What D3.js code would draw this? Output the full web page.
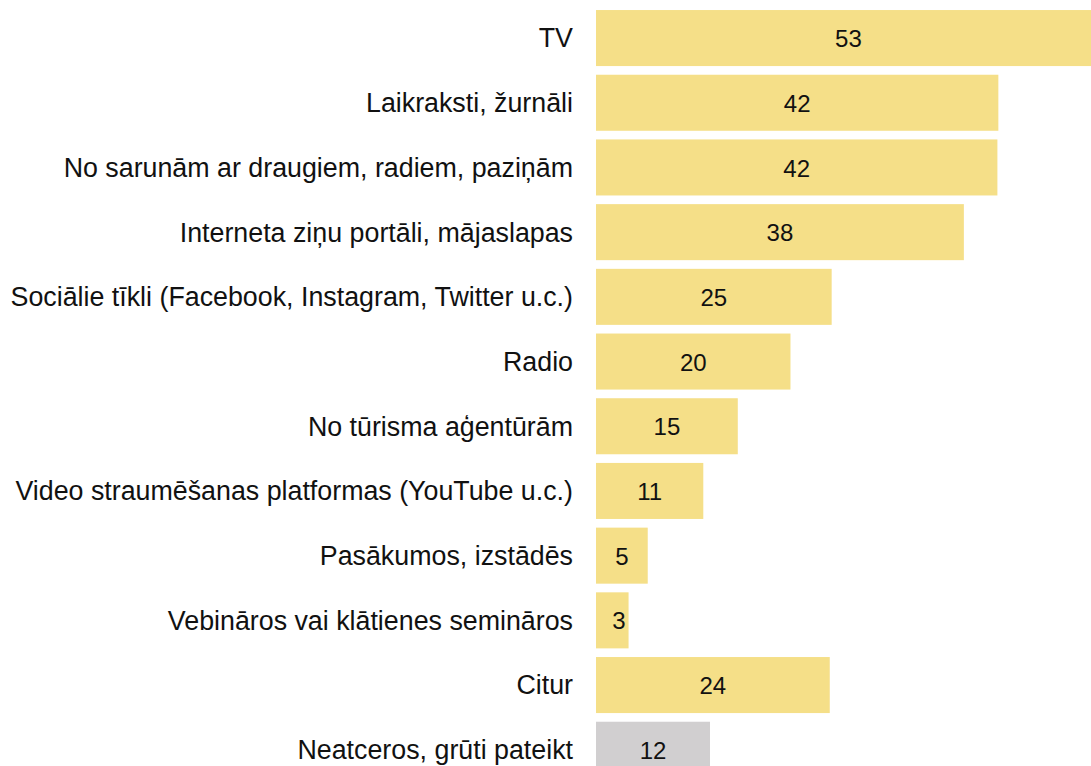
<!DOCTYPE html>
<html>
<head>
<meta charset="utf-8">
<script src="https://cdn.jsdelivr.net/npm/d3@7"></script>
<style>
  body { margin: 0; background: #fff; }
  text { font-family: "Liberation Sans", Arial, sans-serif; fill: #111; }
</style>
</head>
<body>
<svg id="chart" width="1091" height="766"></svg>
<script>
var categories = [
    "TV",
    "Laikraksti, žurnāli",
    "No sarunām ar draugiem, radiem, paziņām",
    "Interneta ziņu portāli, mājaslapas",
    "Sociālie tīkli (Facebook, Instagram, Twitter u.c.)",
    "Radio",
    "No tūrisma aģentūrām",
    "Video straumēšanas platformas (YouTube u.c.)",
    "Pasākumos, izstādēs",
    "Vebināros vai klātienes semināros",
    "Citur",
    "Neatceros, grūti pateikt"
];
// bar lengths, labels as printed
var values = [52.7, 42.0, 41.9, 38.4, 24.6, 20.3, 14.8, 11.2, 5.4, 3.4, 24.4, 11.9];
var labels = ["53", "42", "42", "38", "25", "20", "15", "11", "5", "3", "24", "12"];
var greyRows = ["Neatceros, grūti pateikt"];

var svg = d3.select("#chart");
var x0 = 596;

var x = d3.scaleLinear()
    .domain([0, 10])
    .range([x0, x0 + 95.8]);

var y = d3.scaleBand()
    .domain(categories)
    .range([5.7, 5.7 + 12 * 64.7])
    .paddingInner(0.134)
    .paddingOuter(0.067);

var rows = svg.selectAll(".row")
    .data(categories)
    .enter().append("g")
    .attr("class", "row");

rows.append("rect")
    .attr("x", x(0))
    .attr("y", function(d) { return y(d); })
    .attr("height", y.bandwidth())
    .attr("width", function(d, i) { return x(values[i]) - x(0); })
    .attr("fill", function(d) {
        return greyRows.indexOf(d) >= 0 ? "#d1cfd0" : "#f5df88"; });

rows.append("text")
    .attr("x", x(0) - 23)
    .attr("y", function(d) { return y(d) + y.bandwidth() / 2; })
    .attr("dy", "0.35em")
    .attr("text-anchor", "end")
    .style("font-size", "26.8px")
    .text(function(d) { return d; });

// value in the middle of the bar, but not closer than ~23px to the axis
rows.append("text")
    .attr("x", function(d, i) {
        return Math.max((x(0) + x(values[i])) / 2, x(0) + 23); })
    .attr("y", function(d) { return y(d) + y.bandwidth() / 2; })
    .attr("dy", "0.38em")
    .attr("text-anchor", "middle")
    .style("font-size", "24px")
    .text(function(d, i) { return labels[i]; });
</script>
</body>
</html>
